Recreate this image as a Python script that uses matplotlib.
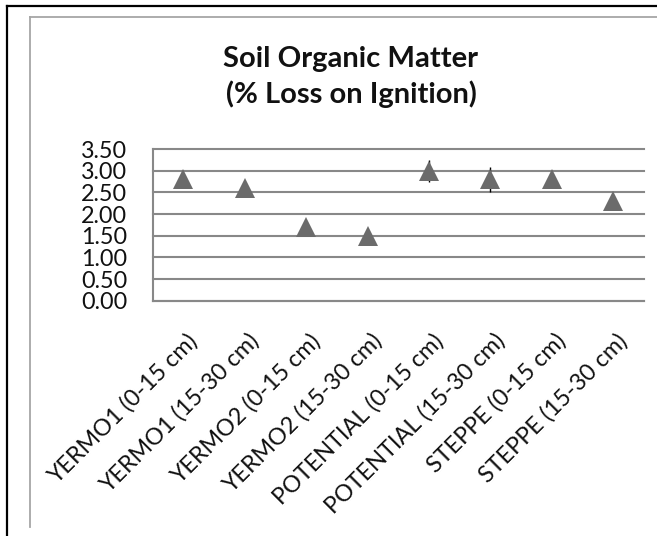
import matplotlib
matplotlib.use("Agg")
import matplotlib.pyplot as plt
from matplotlib.lines import Line2D
import matplotlib.transforms as mtransforms
import numpy as np

categories = ["YERMO1 (0-15 cm)", "YERMO1 (15-30 cm)", "YERMO2 (0-15 cm)", "YERMO2 (15-30 cm)",
              "POTENTIAL (0-15 cm)", "POTENTIAL (15-30 cm)", "STEPPE (0-15 cm)", "STEPPE (15-30 cm)"]
values = [2.80, 2.60, 1.70, 1.50, 3.00, 2.80, 2.80, 2.30]
errors = [0.0, 0.0, 0.0, 0.0, 0.25, 0.29, 0.0, 0.0]
yticks = [0.0, 0.5, 1.0, 1.5, 2.0, 2.5, 3.0, 3.5]
ytick_labels = ["0.00", "0.50", "1.00", "1.50", "2.00", "2.50", "3.00", "3.50"]
title_lines = ["Soil Organic Matter", "(% Loss on Ignition)"]

plt.rcParams['font.family'] = ['Lato', 'DejaVu Sans']

W, H = 657, 536
fig = plt.figure(figsize=(W / 100, H / 100), dpi=100)
fig.patch.set_facecolor("white")

def px(x, y):
    return x / W, 1 - y / H

# outer black frame and inner gray chart-area frame
fig.add_artist(Line2D([px(7, 0)[0], px(7, 0)[0]], [0, px(0, 5.5)[1]], transform=fig.transFigure,
                      color="black", lw=1.6))
fig.add_artist(Line2D([px(7, 0)[0], 1.0], [px(0, 5.5)[1]] * 2, transform=fig.transFigure,
                      color="black", lw=1.6))
fig.add_artist(Line2D([px(30, 0)[0]] * 2, [px(0, 527)[1], px(0, 16.5)[1]], transform=fig.transFigure,
                      color="#a6a6a6", lw=1.3))
fig.add_artist(Line2D([px(30, 0)[0], 1.0], [px(0, 16.5)[1]] * 2, transform=fig.transFigure,
                      color="#a6a6a6", lw=1.3))

left, right = 152.7 / W, 644 / W
bottom, top = 1 - 300.7 / H, 1 - 149 / H
ax = fig.add_axes([left, bottom, right - left, top - bottom])

x = np.arange(len(categories))
ax.errorbar(x, values, yerr=errors, fmt='none', ecolor='black', elinewidth=1.0, capsize=0, zorder=2)
ax.plot(x, values, linestyle='none', marker='^', markersize=14.4, color='#6b6b6b', zorder=3,
        markeredgewidth=0)

ax.set_xlim(-0.5, len(categories) - 0.5)
ax.set_ylim(0, 3.5)
ax.set_yticks(yticks)
ax.set_yticklabels(ytick_labels)
ax.set_xticks(x)
ax.set_xticklabels(categories, rotation=45, ha='right', rotation_mode='anchor')

for s in ['top', 'right']:
    ax.spines[s].set_visible(False)
for s in ['left', 'bottom']:
    ax.spines[s].set_color('#888888')
    ax.spines[s].set_linewidth(1.5)

ax.yaxis.grid(True, color='#888888', linewidth=1.5)
for gl in ax.get_ygridlines():
    gl.set_clip_on(False)
ax.set_axisbelow(True)

ax.tick_params(axis='both', length=0, labelsize=16.8, labelcolor='#111111')
ax.tick_params(axis='y', pad=18.5)
ax.tick_params(axis='x', pad=21)
offset = mtransforms.ScaledTranslation(3 / 100, 0, fig.dpi_scale_trans)
for lbl in ax.get_xticklabels():
    lbl.set_transform(lbl.get_transform() + offset)

fig.text(350.5 / W, 1 - 67.3 / H, title_lines[0], ha='center', va='baseline',
         fontsize=21, fontweight='bold', color='#111111')
fig.text(351.5 / W, 1 - 103 / H, title_lines[1], ha='center', va='baseline',
         fontsize=21, fontweight='bold', color='#111111')

fig.savefig("out.png", dpi=100)
